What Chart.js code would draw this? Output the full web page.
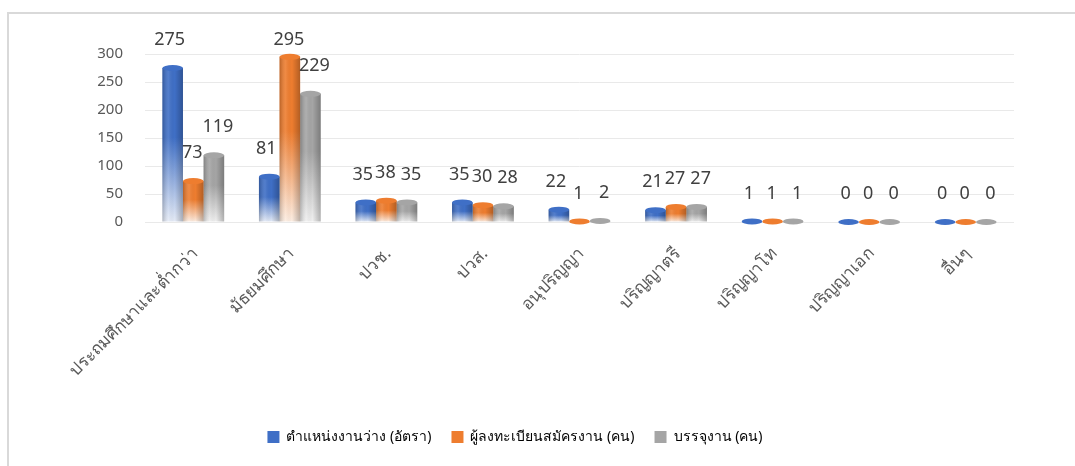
<!DOCTYPE html>
<html>
<head>
<meta charset="utf-8">
<script src="https://cdn.jsdelivr.net/npm/chart.js@4"></script>
<style>
  html, body { margin: 0; padding: 0; background: #fff; }
  #wrap { position: relative; width: 1075px; height: 466px; overflow: hidden; }
  #frame { position: absolute; left: 7px; top: 12px; width: 1100px; height: 500px; border: 2px solid #d9d9d9; box-sizing: border-box; }
  canvas { position: absolute; left: 0; top: 0; }
</style>
</head>
<body>
<div id="wrap">
  <div id="frame"></div>
  <canvas id="chart" width="1075" height="466"></canvas>
</div>
<script>
// ข้อมูลจากกราฟ
const categories = ['ประถมศึกษาและต่ำกว่า', 'มัธยมศึกษา', 'ปวช.', 'ปวส.', 'อนุปริญญา', 'ปริญญาตรี', 'ปริญญาโท', 'ปริญญาเอก', 'อื่นๆ'];
const vacancies = [275, 81, 35, 35, 22, 21, 1, 0, 0];
const applicants = [73, 295, 38, 30, 1, 27, 1, 0, 0];
const placed = [119, 229, 35, 28, 2, 27, 1, 0, 0];
const seriesNames = ['ตำแหน่งงานว่าง (อัตรา)', 'ผู้ลงทะเบียนสมัครงาน (คน)', 'บรรจุงาน (คน)'];
const yTicks = [0, 50, 100, 150, 200, 250, 300];

const colors = ['#3f6fc6', '#ee7d2f', '#a5a5a5'];
const fadeColors = ['#e6ecf7', '#fdeee3', '#f0f0f0'];
const labelShift = [-3, -1, 4];

const FONT = '"Noto Sans", sans-serif';

// ไล่สีจากบนลงล่างของแต่ละแท่ง
function barGradient(i) {
    return function (ctx) {
        const chart = ctx.chart;
        if (ctx.type !== 'data' || !chart.chartArea) return colors[i];
        const y = chart.scales.y;
        const top = y.getPixelForValue(ctx.parsed ? ctx.parsed.y : 0);
        const base = y.getPixelForValue(0);
        if (base - top < 1) return colors[i];
        const g = chart.ctx.createLinearGradient(0, top, 0, base);
        g.addColorStop(0, colors[i]);
        g.addColorStop(0.45, colors[i]);
        g.addColorStop(1, fadeColors[i]);
        return g;
    };
}

// เงาทรงกระบอก + ป้ายตัวเลข + ป้ายแกน x แบบเอียง
const cylinderPlugin = {
    id: 'cylinder',
    afterDatasetsDraw(chart) {
        const c = chart.ctx;
        chart.data.datasets.forEach((ds, i) => {
            const meta = chart.getDatasetMeta(i);
            meta.data.forEach((bar) => {
                const w = bar.width;
                const left = bar.x - w / 2;
                const h = bar.base - bar.y;
                c.save();
                if (h > 1) {
                    const g = c.createLinearGradient(left, 0, left + w, 0);
                    g.addColorStop(0, 'rgba(0,0,0,0.22)');
                    g.addColorStop(0.3, 'rgba(255,255,255,0.10)');
                    g.addColorStop(0.6, 'rgba(0,0,0,0)');
                    g.addColorStop(1, 'rgba(0,0,0,0.25)');
                    c.fillStyle = g;
                    c.fillRect(left, bar.y, w, h);
                }
                c.beginPath();
                c.ellipse(bar.x, bar.y, w / 2, 3, 0, 0, Math.PI * 2);
                c.fillStyle = colors[i];
                c.fill();
                c.restore();
            });
        });
        c.save();
        c.font = '18px ' + FONT;
        c.fillStyle = '#404040';
        c.textAlign = 'center';
        c.textBaseline = 'middle';
        chart.data.datasets.forEach((ds, i) => {
            const meta = chart.getDatasetMeta(i);
            meta.data.forEach((bar, j) => {
                const y = Math.max(bar.y - 28, 40);
                c.fillText(String(ds.data[j]), bar.x + labelShift[i], y);
            });
        });
        c.restore();
    },
    afterDraw(chart) {
        const c = chart.ctx;
        const xs = chart.scales.x;
        const base = chart.scales.y.getPixelForValue(0);
        c.save();
        c.font = '17px ' + FONT;
        c.fillStyle = '#595959';
        c.textAlign = 'right';
        c.textBaseline = 'middle';
        categories.forEach((name, i) => {
            c.save();
            c.translate(xs.getPixelForTick(i) + 2, base + 29);
            c.rotate(-Math.PI / 4);
            c.fillText(name, 0, 0);
            c.restore();
        });
        c.restore();
    }
};

const datasets = [vacancies, applicants, placed].map((vals, i) => ({
    label: seriesNames[i],
    data: vals,
    backgroundColor: barGradient(i),
    borderWidth: 0,
    barPercentage: 1,
    categoryPercentage: 0.64
}));

new Chart(document.getElementById('chart'), {
    type: 'bar',
    data: { labels: categories, datasets: datasets },
    plugins: [cylinderPlugin],
    options: {
        responsive: false,
        animation: false,
        layout: { padding: { left: 16, right: 61, top: 54, bottom: 12 } },
        scales: {
            x: {
                grid: { display: false },
                border: { display: false },
                ticks: { display: false },
                afterFit(scale) { scale.height = 188; }
            },
            y: {
                min: 0,
                max: 300,
                afterBuildTicks(scale) { scale.ticks = yTicks.map(v => ({ value: v })); },
                grid: { color: '#e9e9e9', lineWidth: 1, drawTicks: false },
                border: { display: false },
                ticks: {
                    color: '#595959',
                    font: { family: FONT, size: 15 },
                    padding: 22
                },
                afterFit(scale) { scale.width = 129; }
            }
        },
        plugins: {
            tooltip: { enabled: false },
            legend: {
                position: 'bottom',
                labels: {
                    color: '#595959',
                    font: { family: FONT, size: 14 },
                    boxWidth: 12,
                    boxHeight: 12,
                    padding: 20,
                    generateLabels(chart) {
                        return chart.data.datasets.map((ds, i) => ({
                            text: ds.label,
                            fillStyle: colors[i],
                            strokeStyle: colors[i],
                            lineWidth: 0,
                            datasetIndex: i
                        }));
                    }
                }
            }
        }
    }
});
</script>
</body>
</html>
